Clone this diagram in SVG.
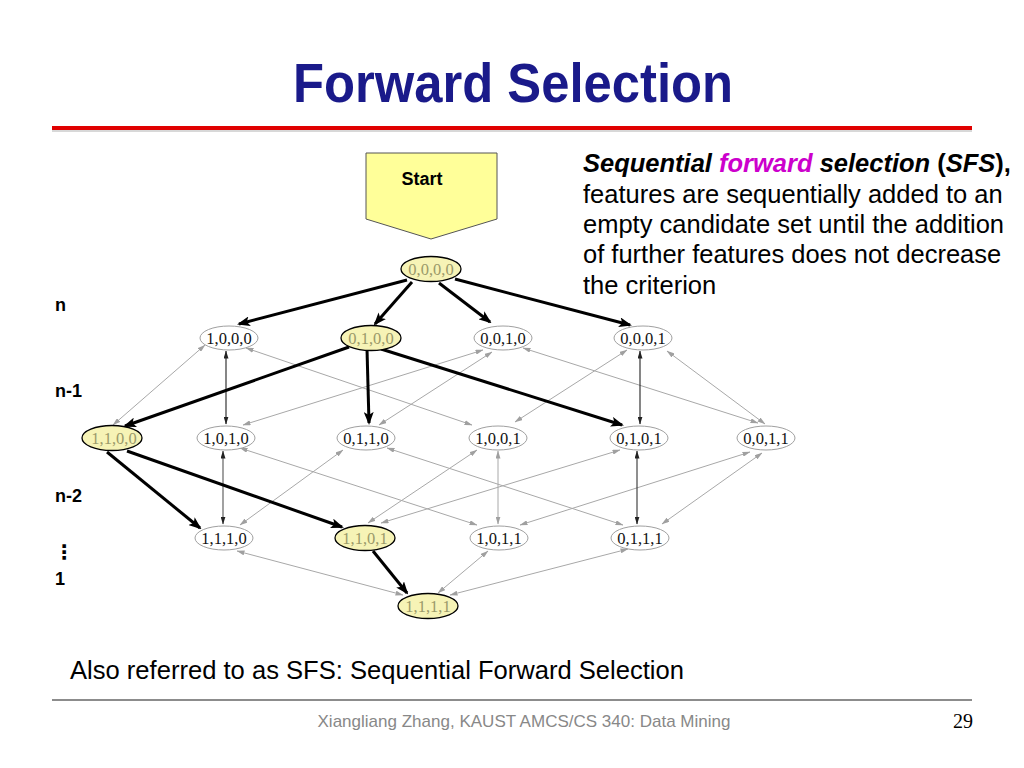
<svg xmlns="http://www.w3.org/2000/svg" width="1024" height="768" viewBox="0 0 1024 768">
<defs>
<style>
.ge{stroke:#a8a8a8;stroke-width:1;fill:none;marker-start:url(#ga);marker-end:url(#ga)}
.ke{stroke:#222;stroke-width:1.1;fill:none;marker-start:url(#ka);marker-end:url(#ka)}
.te{stroke:#000;stroke-width:3;fill:none;marker-end:url(#ta)}
.wn{fill:#fff;stroke:#a0a0a0;stroke-width:1}
.yn{fill:#f6f3b6;stroke:#000;stroke-width:1.3}
.wt{font-family:"Liberation Serif","Times New Roman",serif;font-size:16.5px;fill:#111;text-anchor:middle}
.yt{font-family:"Liberation Serif","Times New Roman",serif;font-size:16.5px;fill:#9b9a6a;text-anchor:middle}
.lv{font-family:"Liberation Sans",Arial,sans-serif;font-size:18px;font-weight:bold;fill:#000}
.para{font-family:"Liberation Sans",Arial,sans-serif;font-size:25.5px;fill:#000}
</style>
<marker id="ga" markerUnits="userSpaceOnUse" viewBox="0 0 8 5" markerWidth="8" markerHeight="5" refX="7.5" refY="2.5" orient="auto-start-reverse"><path d="M0,0 L8,2.5 L0,5 z" fill="#a0a0a0"/></marker>
<marker id="ka" markerUnits="userSpaceOnUse" viewBox="0 0 8 5" markerWidth="8" markerHeight="5" refX="7.5" refY="2.5" orient="auto-start-reverse"><path d="M0,0 L8,2.5 L0,5 z" fill="#222"/></marker>
<marker id="ta" markerUnits="userSpaceOnUse" viewBox="0 0 13 10" markerWidth="13" markerHeight="10" refX="11" refY="5" orient="auto"><path d="M0,0 L13,5 L0,10 L3,5 z" fill="#000"/></marker>
</defs>
<rect width="1024" height="768" fill="#fff"/>

<g id="title">
<text x="513" y="102" text-anchor="middle" font-family="Liberation Sans,Arial,sans-serif" font-size="55" font-weight="bold" fill="#1a1a8a" textLength="440" lengthAdjust="spacingAndGlyphs">Forward Selection</text>
<line x1="52" y1="131" x2="972" y2="131" stroke="#d8d8d8" stroke-width="2"/>
<line x1="52" y1="128" x2="972" y2="128" stroke="#e00000" stroke-width="4"/>
</g>

<g id="description">
<text class="para" x="583" y="172"><tspan font-weight="bold" font-style="italic">Sequential </tspan><tspan font-weight="bold" font-style="italic" fill="#cc00cc">forward</tspan><tspan font-weight="bold" font-style="italic"> selection </tspan><tspan font-weight="bold">(</tspan><tspan font-weight="bold" font-style="italic">SFS</tspan><tspan font-weight="bold">),</tspan></text>
<text class="para" x="583" y="203">features are sequentially added to an</text>
<text class="para" x="583" y="233">empty candidate set until the addition</text>
<text class="para" x="583" y="263">of further features does not decrease</text>
<text class="para" x="583" y="294">the criterion</text>
</g>

<g id="levels">
<text class="lv" x="55" y="311">n</text>
<text class="lv" x="55" y="397">n-1</text>
<text class="lv" x="55" y="502">n-2</text>
<text x="54" y="559" font-family="DejaVu Sans,sans-serif" font-size="20" font-weight="bold" fill="#000">⋮</text>
<text class="lv" x="55" y="585">1</text>
</g>

<g id="start">
<polygon points="366,153 497,153 497,219 431,239 366,219" fill="#ffff99" stroke="#555" stroke-width="1"/>
<text x="422" y="185" text-anchor="middle" font-family="Liberation Sans,Arial,sans-serif" font-size="18" font-weight="bold" fill="#000">Start</text>
</g>

<g id="connectors">
<path class="ge" d="M205,345 L113,425"/>
<path class="ke" d="M226,351 L226,424"/>
<path class="ge" d="M246,348 L472,425"/>
<path class="ge" d="M483,350 L243,425"/>
<path class="ge" d="M492,352 L379,425"/>
<path class="ge" d="M523,348 L758,423"/>
<path class="ge" d="M627,350 L515,422"/>
<path class="ke" d="M640,351 L640,424"/>
<path class="ge" d="M667,351 L765,424"/>
<path class="ge" d="M240,448 L477,525"/>
<path class="ge" d="M343,450 L240,525"/>
<path class="ge" d="M387,448 L623,525"/>
<path class="ge" d="M477,450 L368,523"/>
<path class="ge" d="M498,451 L498,524"/>
<path class="ge" d="M620,450 L381,523"/>
<path class="ge" d="M750,452 L520,525"/>
<path class="ge" d="M762,453 L662,524"/>
<path class="ke" d="M223,451 L223,524" style="stroke:#555"/>
<path class="ke" d="M637,451 L637,524" style="stroke:#333"/>
<path class="ge" d="M237,551 L403,595"/>
<path class="ge" d="M488,551 L438,593"/>
<path class="ge" d="M628,549 L450,595"/>
<path class="te" d="M407,280 L239,324"/>
<path class="te" d="M412,282 L375,324"/>
<path class="te" d="M439,283 L490,322"/>
<path class="te" d="M455,279 L630,325"/>
<path class="te" d="M349,347 L125,426"/>
<path class="te" d="M367,349 L369,423"/>
<path class="te" d="M381,349 L622,425"/>
<path class="te" d="M107,452 L200,528"/>
<path class="te" d="M127,451 L342,527"/>
<path class="te" d="M373,551 L407,593"/>
</g>

<g id="n0000"><ellipse class="yn" cx="431" cy="269" rx="30" ry="12.5"/><text class="yt" x="431" y="274.5">0,0,0,0</text></g>
<g id="n1000"><ellipse class="wn" cx="229" cy="338" rx="29" ry="12"/><text class="wt" x="229" y="343.5">1,0,0,0</text></g>
<g id="n0100"><ellipse class="yn" cx="371" cy="338" rx="30" ry="12.5"/><text class="yt" x="371" y="343.5">0,1,0,0</text></g>
<g id="n0010"><ellipse class="wn" cx="503" cy="338" rx="29" ry="12"/><text class="wt" x="503" y="343.5">0,0,1,0</text></g>
<g id="n0001"><ellipse class="wn" cx="643" cy="338" rx="29" ry="12"/><text class="wt" x="643" y="343.5">0,0,0,1</text></g>
<g id="n1100"><ellipse class="yn" cx="112" cy="438" rx="30" ry="12.5"/><text class="yt" x="114" y="443.5">1,1,0,0</text></g>
<g id="n1010"><ellipse class="wn" cx="226" cy="438" rx="29" ry="12"/><text class="wt" x="226" y="443.5">1,0,1,0</text></g>
<g id="n0110"><ellipse class="wn" cx="366" cy="438" rx="29" ry="12"/><text class="wt" x="366" y="443.5">0,1,1,0</text></g>
<g id="n1001"><ellipse class="wn" cx="498" cy="438" rx="29" ry="12"/><text class="wt" x="498" y="443.5">1,0,0,1</text></g>
<g id="n0101"><ellipse class="wn" cx="639" cy="438" rx="29" ry="12"/><text class="wt" x="639" y="443.5">0,1,0,1</text></g>
<g id="n0011"><ellipse class="wn" cx="766" cy="438" rx="29" ry="12"/><text class="wt" x="766" y="443.5">0,0,1,1</text></g>
<g id="n1110"><ellipse class="wn" cx="224" cy="538" rx="29" ry="12"/><text class="wt" x="224" y="543.5">1,1,1,0</text></g>
<g id="n1101"><ellipse class="yn" cx="365" cy="538" rx="30" ry="12.5"/><text class="yt" x="365" y="543.5">1,1,0,1</text></g>
<g id="n1011"><ellipse class="wn" cx="499" cy="538" rx="29" ry="12"/><text class="wt" x="499" y="543.5">1,0,1,1</text></g>
<g id="n0111"><ellipse class="wn" cx="640" cy="538" rx="29" ry="12"/><text class="wt" x="640" y="543.5">0,1,1,1</text></g>
<g id="n1111"><ellipse class="yn" cx="428" cy="606" rx="30" ry="12.5"/><text class="yt" x="428" y="611.5">1,1,1,1</text></g>

<g id="footer">
<text x="70" y="679" font-family="Liberation Sans,Arial,sans-serif" font-size="26" fill="#000" textLength="614" lengthAdjust="spacingAndGlyphs">Also referred to as SFS: Sequential Forward Selection</text>
<line x1="52" y1="700" x2="972" y2="700" stroke="#666" stroke-width="1.5"/>
<text x="524" y="727" text-anchor="middle" font-family="Liberation Sans,Arial,sans-serif" font-size="17" fill="#888" textLength="413" lengthAdjust="spacingAndGlyphs">Xiangliang Zhang, KAUST AMCS/CS 340: Data Mining</text>
<text x="973" y="728" text-anchor="end" font-family="Liberation Serif,Times New Roman,serif" font-size="20" fill="#000">29</text>
</g>
</svg>
